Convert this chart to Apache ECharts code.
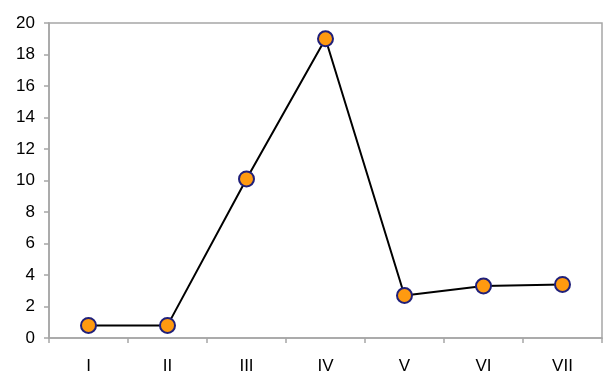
<!DOCTYPE html>
<html><head><meta charset="utf-8">
<script src="https://cdn.jsdelivr.net/npm/echarts@6/dist/echarts.min.js"></script>
<style>html,body{margin:0;padding:0;background:#fff}#c{width:610px;height:387px}</style>
</head><body><div id="c"></div>
<script>
const categories = ['I','II','III','IV','V','VI','VII'];
const values = [0.8, 0.8, 10.1, 19.0, 2.7, 3.3, 3.4];
const yTicks = {min: 0, max: 20, interval: 2};

const chart = echarts.init(document.getElementById('c'));
chart.setOption({
  animation: false,
  grid: {left: 49, top: 23, right: 8, bottom: 49, show: true, borderColor: '#a6a6a6', borderWidth: 1.5},
  xAxis: {
    type: 'category', data: categories, boundaryGap: true,
    axisLine: {lineStyle: {color: '#a6a6a6', width: 1.5}},
    axisTick: {show: true, length: 5, lineStyle: {color: '#a6a6a6', width: 1.5}},
    axisLabel: {color: '#000', fontFamily: 'Liberation Sans', fontSize: 17, margin: 20},
    splitLine: {show: false}
  },
  yAxis: {
    type: 'value', min: yTicks.min, max: yTicks.max, interval: yTicks.interval,
    axisLine: {show: true, lineStyle: {color: '#a6a6a6', width: 1.5}},
    axisTick: {show: true, length: 5, lineStyle: {color: '#a6a6a6', width: 1.5}},
    axisLabel: {color: '#000', fontFamily: 'Liberation Sans', fontSize: 17, margin: 14},
    splitLine: {show: false}
  },
  series: [{
    type: 'line', data: values,
    symbol: 'circle', symbolSize: 15,
    lineStyle: {color: '#000', width: 2},
    itemStyle: {color: '#ff9a10', borderColor: '#20207a', borderWidth: 2}
  }]
});
</script></body></html>
